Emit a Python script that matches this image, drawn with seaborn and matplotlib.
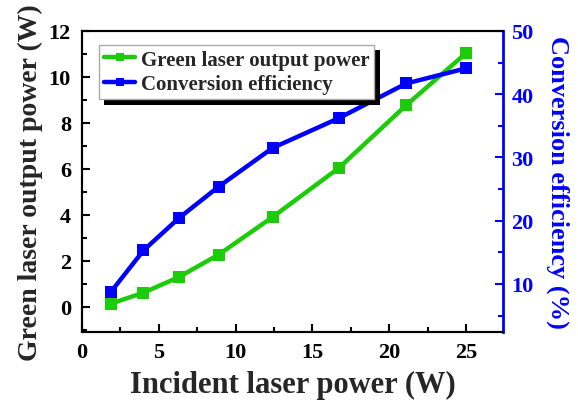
import matplotlib
matplotlib.use("Agg")
import matplotlib.pyplot as plt
import matplotlib.patheffects as pe
import seaborn as sns
import pandas as pd
from matplotlib.ticker import MultipleLocator

incident_power = [1.9, 4.0, 6.3, 8.9, 12.4, 16.7, 21.1, 25.0]
green_power = [0.14, 0.61, 1.29, 2.27, 3.9, 6.03, 8.77, 11.04]
efficiency = [8.8, 15.3, 20.4, 25.4, 31.5, 36.2, 41.7, 44.1]

sns.set_style("ticks")
plt.rcParams['font.family'] = ['Liberation Serif', 'DejaVu Serif']
plt.rcParams['font.weight'] = 'bold'

df = pd.DataFrame({"x": incident_power, "g": green_power, "e": efficiency})

fig = plt.figure(figsize=(5.78, 4.06), dpi=100)
ax = fig.add_axes([82/578, 1-333/406, (503-82)/578, (333-32)/406])
ax2 = ax.twinx()

green = "#1ccc08"
blue = "#0000ff"

sns.lineplot(data=df, x="x", y="g", ax=ax, color=green, lw=3.2, marker="s",
             markersize=9, markeredgewidth=0, label="Green laser output power", legend=False)
sns.lineplot(data=df, x="x", y="e", ax=ax2, color=blue, lw=3.2, marker="s",
             markersize=9, markeredgewidth=0, label="Conversion efficiency", legend=False)

ax.set_xlim(0, 27.4)
ax.set_ylim(-1.1, 12)
ax2.set_ylim(2.4, 50)

ax.xaxis.set_major_locator(MultipleLocator(5))
ax.xaxis.set_minor_locator(MultipleLocator(2.5))
ax.yaxis.set_major_locator(MultipleLocator(2))
ax.yaxis.set_minor_locator(MultipleLocator(1))
ax2.yaxis.set_major_locator(MultipleLocator(10))
ax2.yaxis.set_minor_locator(MultipleLocator(5))

ax.tick_params(axis='both', which='both', direction='in', labelsize=16, width=1.5, colors='black')
ax.tick_params(which='major', length=6)
ax.tick_params(which='minor', length=3.5)
ax.tick_params(axis='x', pad=7)
ax.tick_params(axis='y', pad=8)
ax2.tick_params(axis='y', which='both', direction='in', labelsize=16, width=1.5, colors=blue, pad=6)
ax2.tick_params(which='major', length=6)
ax2.tick_params(which='minor', length=3.5)

for lab in ax.get_xticklabels() + ax.get_yticklabels() + ax2.get_yticklabels():
    lab.set_fontweight('bold')

for s in ['left', 'bottom', 'top']:
    ax2.spines[s].set_linewidth(1.5)
    ax.spines[s].set_linewidth(1.5)
ax.spines['right'].set_visible(False)
ax2.spines['right'].set_color(blue)
ax2.spines['right'].set_linewidth(2)
ax2.spines['left'].set_color('black')
ax2.spines['top'].set_color('black')
ax2.spines['bottom'].set_color('black')

ax.set_xlabel("Incident laser power (W)", fontsize=22, fontweight='bold', labelpad=6)
ax.set_ylabel("Green laser output power (W)", fontsize=20, fontweight='bold', labelpad=4)
ax2.set_ylabel("Conversion efficiency (%)", fontsize=19, fontweight='bold', color=blue,
               rotation=270, labelpad=26)

h1, l1 = ax.get_legend_handles_labels()
h2, l2 = ax2.get_legend_handles_labels()
leg = ax2.legend(h1 + h2, l1 + l2, loc='upper left', bbox_to_anchor=(0.04, 0.955),
                 fancybox=False, shadow=False, frameon=True,
                 prop={'weight': 'bold', 'size': 15}, handlelength=1.5, markerscale=0.6,
                 borderpad=0.25, labelspacing=0.2, handletextpad=0.25, borderaxespad=0)
frame = leg.get_frame()
frame.set_edgecolor('#aaaaaa')
frame.set_linewidth(1)
frame.set_alpha(1)
frame.set_path_effects([pe.SimplePatchShadow(offset=(4, -4), shadow_rgbFace='black', alpha=1.0),
                        pe.Normal()])

fig.savefig("out.png", dpi=100)
